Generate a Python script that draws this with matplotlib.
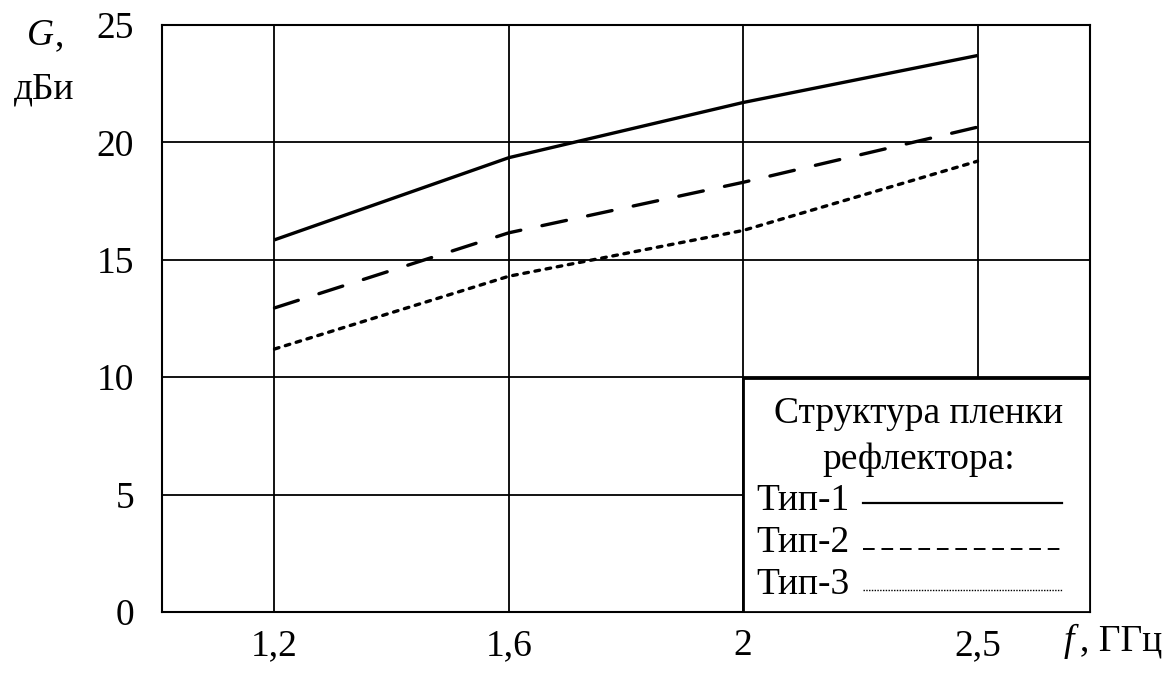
import matplotlib.pyplot as plt
import matplotlib
from matplotlib.patches import Rectangle
from matplotlib.lines import Line2D

matplotlib.rcParams['font.family'] = 'Liberation Serif'

freqs = ['1,2', '1,6', '2', '2,5']
type1 = [15.85, 19.35, 21.7, 23.7]
type2 = [12.95, 16.15, 18.3, 20.65]
type3 = [11.2, 14.3, 16.25, 19.2]

fig = plt.figure(figsize=(11.71, 6.74), dpi=100)
ax = fig.add_axes([162 / 1171, 1 - 612 / 674, (1090 - 162) / 1171, (612 - 25) / 674])

x = list(range(len(freqs)))
ax.plot(x, type1, color='black', linewidth=2.4, solid_capstyle='butt')
ax.plot(x, type2, color='black', linewidth=2.4, dashes=(7.5, 6.5), dash_capstyle='round')
ax.plot(x, type3, color='black', linewidth=2.4, dashes=(1.4, 2.0), dash_capstyle='round')

ax.set_xlim(-0.48, 3.48)
ax.set_ylim(0, 25)
ax.set_xticks(x)
ax.set_xticklabels(freqs)
ax.set_yticks([0, 5, 10, 15, 20, 25])
ax.tick_params(length=0, labelsize=27)
ax.tick_params(axis='x', pad=12)
ax.tick_params(axis='y', pad=20)
ax.grid(True, color='black', linewidth=1.3)
ax.set_axisbelow(True)
for s in ax.spines.values():
    s.set_linewidth(1.5)

# legend box
ax.add_patch(Rectangle((0.626, 0.0), 0.374, 0.399, transform=ax.transAxes,
                       facecolor='white', edgecolor='black', linewidth=2.0, zorder=5))
kw = dict(transform=ax.transAxes, fontsize=27, zorder=6, va='center')
ax.text(0.815, 0.338, 'Структура пленки', ha='center', **kw)
ax.text(0.815, 0.260, 'рефлектора:', ha='center', **kw)
ax.text(0.640, 0.189, 'Тип-1', ha='left', **kw)
ax.text(0.640, 0.118, 'Тип-2', ha='left', **kw)
ax.text(0.640, 0.047, 'Тип-3', ha='left', **kw)
for yy, style in [(0.186, dict(linewidth=1.6)),
                  (0.107, dict(linewidth=1.4, dashes=(6, 3.5))),
                  (0.037, dict(linewidth=1.0, dashes=(1, 1)))]:
    ax.add_line(Line2D([0.755, 0.970], [yy, yy], transform=ax.transAxes,
                       color='black', zorder=6, **style))

fig.text(54 / 1171, 1 - 36 / 674, 'G', fontsize=27, style='italic', ha='right', va='center')
fig.text(55 / 1171, 1 - 36 / 674, ',', fontsize=27, ha='left', va='center')
fig.text(44 / 1171, 1 - 89 / 674, 'дБи', fontsize=27, ha='center', va='center')
fig.text(1064 / 1171, 1 - 641 / 674, 'f', fontsize=27, style='italic', ha='left', va='center')
fig.text(1080 / 1171, 1 - 641 / 674, ', ГГц', fontsize=27, ha='left', va='center')

fig.savefig('out.png', dpi=100)
